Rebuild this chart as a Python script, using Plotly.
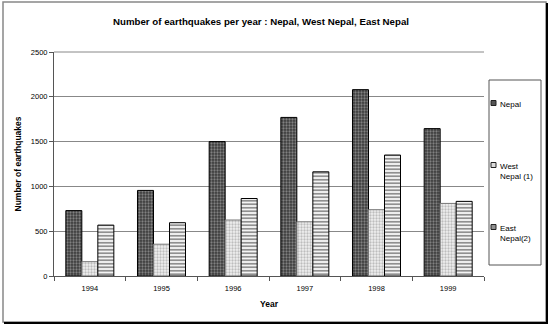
import plotly.graph_objects as go

years = ["1994", "1995", "1996", "1997", "1998", "1999"]
nepal = [730, 955, 1500, 1770, 2080, 1645]
west_nepal = [160, 355, 625, 605, 740, 810]
east_nepal = [568, 595, 865, 1163, 1350, 833]
y_ticks = [0, 500, 1000, 1500, 2000, 2500]
series_names = ["Nepal", "West<br>Nepal (1)", "East<br>Nepal(2)"]

W, H = 550, 326
L, R, T, B = 54, 484, 52, 276

def px(x):
    return (x - L) / (R - L)

def py(y):
    return (B - y) / (B - T)

fig = go.Figure()
fig.add_trace(go.Bar(
    x=years, y=nepal, name=series_names[0],
    marker=dict(color="#3a3a3a", line=dict(color="black", width=1),
                pattern=dict(shape=".", bgcolor="#3a3a3a", fgcolor="#c8c8c8", size=3, solidity=0.45, fillmode="overlay")),
))
fig.add_trace(go.Bar(
    x=years, y=west_nepal, name=series_names[1],
    marker=dict(color="#dddddd", line=dict(color="#777777", width=1),
                pattern=dict(shape=".", bgcolor="#f0f0f0", fgcolor="#8a8a8a", size=3, solidity=0.45, fillmode="overlay")),
))
fig.add_trace(go.Bar(
    x=years, y=east_nepal, name=series_names[2],
    marker=dict(color="white", line=dict(color="black", width=1),
                pattern=dict(shape="-", bgcolor="white", fgcolor="#222222", size=3.5, solidity=0.55, fillmode="overlay")),
))

fig.update_layout(
    width=W, height=H,
    margin=dict(l=L, r=W - R, t=T, b=H - B, autoexpand=False),
    paper_bgcolor="white", plot_bgcolor="white",
    font=dict(family="Liberation Sans, Arial, sans-serif", size=7.5, color="black"),
    title=dict(text="<b>Number of earthquakes per year : Nepal, West Nepal, East Nepal</b>",
               x=(261 - L) / (R - L), xref="paper", xanchor="center",
               y=1 - 22 / H, yanchor="middle",
               font=dict(size=9.7, color="black")),
    barmode="group", bargap=0.33, bargroupgap=0,
    showlegend=False,
    xaxis=dict(title=dict(text="<b>Year</b>", font=dict(size=8.5), standoff=9),
               showline=True, linecolor="#555555", linewidth=1,
               ticks="outside", tickson="boundaries", ticklen=4, tickcolor="#555555",
               ticklabelstandoff=5, showgrid=False),
    yaxis=dict(title=dict(text="<b>Number of earthquakes</b>", font=dict(size=8.5), standoff=7),
               range=[0, 2500], tickvals=y_ticks, ticktext=[str(v) for v in y_ticks],
               showline=True, linecolor="#555555", linewidth=1,
               ticks="outside", ticklen=4, tickcolor="#555555",
               showgrid=True, gridcolor="#888888", gridwidth=1, zeroline=False),
)

shapes = [
    dict(type="rect", xref="paper", yref="paper", x0=px(3), x1=px(546), y0=py(322), y1=py(2),
         line=dict(color="#888888", width=1.5), layer="below"),
    dict(type="line", xref="paper", yref="paper", x0=px(547), x1=px(547), y0=py(323), y1=py(3),
         line=dict(color="black", width=2)),
    dict(type="line", xref="paper", yref="paper", x0=px(4), x1=px(548), y0=py(323), y1=py(323),
         line=dict(color="black", width=2)),
    dict(type="line", xref="paper", yref="paper", x0=px(54), x1=px(484), y0=py(52), y1=py(52),
         line=dict(color="#888888", width=1)),
    # legend box
    dict(type="rect", xref="paper", yref="paper", x0=px(489), x1=px(541), y0=py(265), y1=py(80),
         line=dict(color="#555555", width=1), fillcolor="white"),
]

# legend entries (symbol + text)
legend_rows = [103, 165, 227]
sym_fill = ["#555555", "#dcdcdc", "white"]
for i, yy in enumerate(legend_rows):
    shapes.append(dict(type="rect", xref="paper", yref="paper",
                       x0=px(491), x1=px(496), y0=py(yy + 2.5), y1=py(yy - 2.5),
                       line=dict(color="#222222", width=1), fillcolor=sym_fill[i]))
    if i == 2:
        for dy in (-1, 1):
            shapes.append(dict(type="line", xref="paper", yref="paper",
                               x0=px(491), x1=px(496), y0=py(yy + dy), y1=py(yy + dy),
                               line=dict(color="#222222", width=1)))
    fig.add_annotation(xref="paper", yref="paper", x=px(497.5), y=py(yy - 5.5),
                       xanchor="left", yanchor="top", align="left", showarrow=False,
                       text=series_names[i], font=dict(size=8, color="black"))
fig.update_layout(shapes=shapes)

fig.write_html("out.html")
